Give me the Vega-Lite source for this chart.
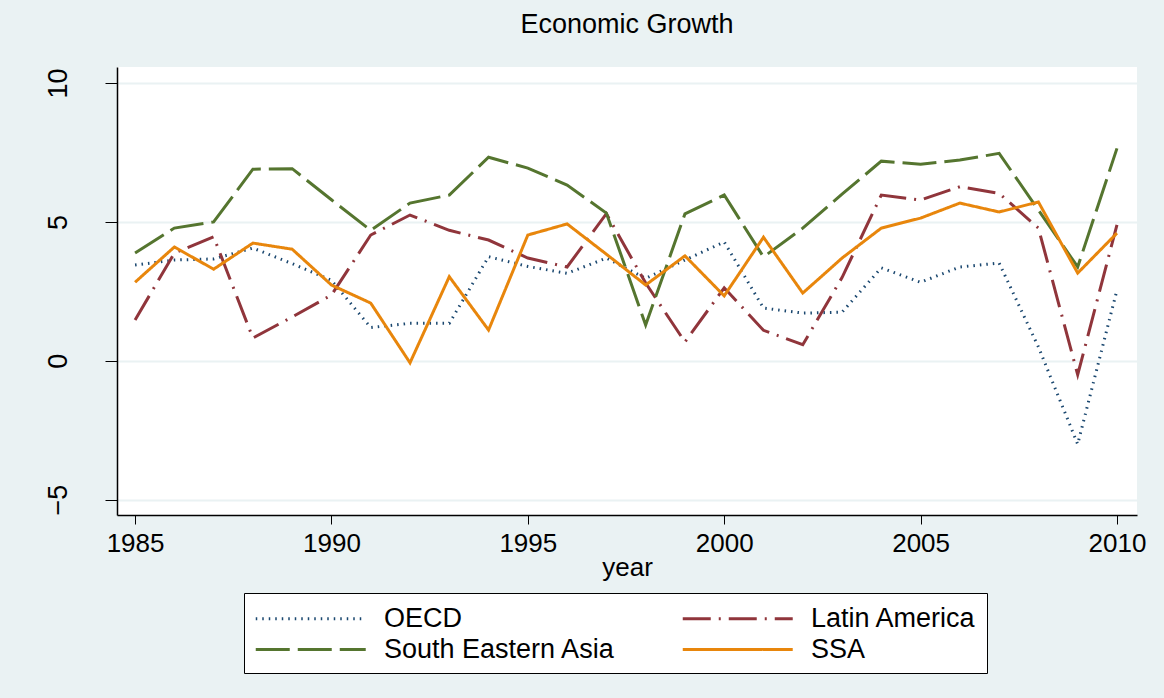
{
  "$schema": "https://vega.github.io/schema/vega-lite/v6.json",
  "width": 1020,
  "height": 448,
  "autosize": {"type": "none"},
  "padding": {"left": 117, "top": 67, "right": 27, "bottom": 183},
  "background": "#eaf2f3",
  "title": {"text": "Economic Growth", "anchor": "middle", "fontSize": 27, "fontWeight": "normal", "font": "Liberation Sans", "color": "black", "offset": 28},
  "config": {
    "font": "Liberation Sans",
    "view": {"fill": "white", "stroke": null}
  },
  "data": {"values": [
    {"year": 1985, "OECD": 3.45, "Latin America": 1.47, "South Eastern Asia": 3.88, "SSA": 2.83},
    {"year": 1986, "OECD": 3.63, "Latin America": 3.88, "South Eastern Asia": 4.78, "SSA": 4.1},
    {"year": 1987, "OECD": 3.67, "Latin America": 4.47, "South Eastern Asia": 5.0, "SSA": 3.3},
    {"year": 1988, "OECD": 4.06, "Latin America": 0.82, "South Eastern Asia": 6.9, "SSA": 4.24},
    {"year": 1989, "OECD": 3.5, "Latin America": 1.58, "South Eastern Asia": 6.92, "SSA": 4.02},
    {"year": 1990, "OECD": 2.9, "Latin America": 2.37, "South Eastern Asia": 5.8, "SSA": 2.73},
    {"year": 1991, "OECD": 1.2, "Latin America": 4.53, "South Eastern Asia": 4.7, "SSA": 2.08},
    {"year": 1992, "OECD": 1.35, "Latin America": 5.25, "South Eastern Asia": 5.68, "SSA": -0.07},
    {"year": 1993, "OECD": 1.35, "Latin America": 4.7, "South Eastern Asia": 5.97, "SSA": 3.03},
    {"year": 1994, "OECD": 3.75, "Latin America": 4.35, "South Eastern Asia": 7.33, "SSA": 1.11},
    {"year": 1995, "OECD": 3.4, "Latin America": 3.7, "South Eastern Asia": 6.94, "SSA": 4.53},
    {"year": 1996, "OECD": 3.15, "Latin America": 3.38, "South Eastern Asia": 6.33, "SSA": 4.93},
    {"year": 1997, "OECD": 3.7, "Latin America": 5.3, "South Eastern Asia": 5.32, "SSA": 3.84},
    {"year": 1998, "OECD": 2.97, "Latin America": 2.8, "South Eastern Asia": 1.29, "SSA": 2.73},
    {"year": 1999, "OECD": 3.63, "Latin America": 0.68, "South Eastern Asia": 5.29, "SSA": 3.78},
    {"year": 2000, "OECD": 4.28, "Latin America": 2.63, "South Eastern Asia": 5.97, "SSA": 2.34},
    {"year": 2001, "OECD": 1.9, "Latin America": 1.1, "South Eastern Asia": 3.74, "SSA": 4.45},
    {"year": 2002, "OECD": 1.72, "Latin America": 0.58, "South Eastern Asia": 4.78, "SSA": 2.44},
    {"year": 2003, "OECD": 1.75, "Latin America": 3.0, "South Eastern Asia": 6.0, "SSA": 3.7},
    {"year": 2004, "OECD": 3.35, "Latin America": 5.97, "South Eastern Asia": 7.19, "SSA": 4.78},
    {"year": 2005, "OECD": 2.83, "Latin America": 5.79, "South Eastern Asia": 7.08, "SSA": 5.14},
    {"year": 2006, "OECD": 3.38, "Latin America": 6.27, "South Eastern Asia": 7.23, "SSA": 5.68},
    {"year": 2007, "OECD": 3.52, "Latin America": 6.03, "South Eastern Asia": 7.47, "SSA": 5.36},
    {"year": 2008, "OECD": 0.5, "Latin America": 4.78, "South Eastern Asia": 5.43, "SSA": 5.72},
    {"year": 2009, "OECD": -3.0, "Latin America": -0.5, "South Eastern Asia": 3.38, "SSA": 3.16},
    {"year": 2010, "OECD": 2.55, "Latin America": 4.9, "South Eastern Asia": 7.65, "SSA": 4.6}
  ]},
  "transform": [
    {"fold": ["OECD", "Latin America", "South Eastern Asia", "SSA"], "as": ["region", "growth"]}
  ],
  "mark": {"type": "line", "strokeWidth": 3, "clip": true},
  "encoding": {
    "x": {
      "field": "year", "type": "quantitative",
      "scale": {"domain": [1984.54, 2010.51], "nice": false, "zero": false},
      "axis": {
        "values": [1985, 1990, 1995, 2000, 2005, 2010], "format": "d", "grid": false,
        "domainColor": "black", "domainWidth": 1.5, "tickColor": "black", "tickSize": 9, "tickWidth": 1,
        "labelFontSize": 26, "labelColor": "black", "labelPadding": 6, "labelFlush": false, "labelOverlap": false,
        "title": "year", "titleFontSize": 26, "titleFontWeight": "normal", "titleColor": "black", "titlePadding": -2
      }
    },
    "y": {
      "field": "growth", "type": "quantitative",
      "scale": {"domain": [-5.55, 10.58], "nice": false, "zero": false},
      "axis": {
        "values": [-5, 0, 5, 10], "grid": true, "gridColor": "#eaf2f3", "gridWidth": 2,
        "domainColor": "black", "domainWidth": 1.5, "tickColor": "black", "tickSize": 12, "tickWidth": 1,
        "labelAngle": 270, "labelAlign": "center", "labelBaseline": "bottom", "labelPadding": 33,
        "labelFontSize": 27, "labelColor": "black", "title": null
      }
    },
    "color": {
      "field": "region", "type": "nominal",
      "scale": {"domain": ["OECD", "Latin America", "South Eastern Asia", "SSA"], "range": ["#1a476f", "#90353b", "#55752f", "#e8860c"]},
      "legend": {
        "title": null, "orient": "none", "legendX": 127, "legendY": 526, "columns": 2, "direction": "horizontal",
        "symbolType": "M-1,0H7", "symbolSize": 756, "symbolStrokeWidth": 3,
        "labelFontSize": 27, "labelColor": "black", "labelOffset": 99, "labelLimit": 400,
        "columnPadding": 60, "rowPadding": 2, "padding": 10,
        "strokeColor": "black", "fillColor": "white"
      }
    },
    "strokeDash": {
      "field": "region", "type": "nominal",
      "scale": {"domain": ["OECD", "Latin America", "South Eastern Asia", "SSA"], "range": [[1.5, 5], [28, 8, 2, 8], [34, 8], [1, 0]]}
    },
    "order": {"field": "year", "type": "quantitative"}
  }
}
